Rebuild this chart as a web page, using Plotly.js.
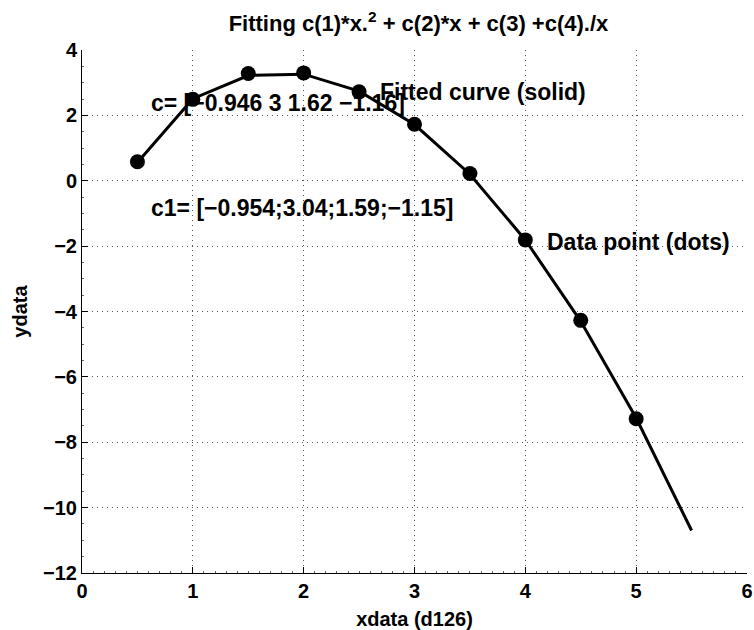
<!DOCTYPE html>
<html>
<head>
<meta charset="utf-8">
<script src="https://cdn.plot.ly/plotly-3.0.1.min.js"></script>
<style>html,body{margin:0;padding:0;background:#fff;}#chart{width:754px;height:630px;}</style>
</head>
<body>
<div id="chart"></div>
<script>
// Data
var xdata = [0.5, 1, 1.5, 2, 2.5, 3, 3.5, 4, 4.5, 5];
var ydata = [0.58, 2.49, 3.28, 3.30, 2.72, 1.73, 0.22, -1.81, -4.27, -7.28];
var xfit = [0.5, 1, 1.5, 2, 2.5, 3, 3.5, 4, 4.5, 5, 5.5];
var yfit = [0.56, 2.51, 3.22, 3.26, 2.74, 1.72, 0.20, -1.81, -4.30, -7.26, -10.70];

var titleText = 'Fitting c(1)*x.<sup>2</sup> + c(2)*x + c(3) +c(4)./x';
var xTitle = 'xdata (d126)';
var yTitle = 'ydata';
var notes = [
  {text: 'c= [\u22120.946 3 1.62 \u22121.16]', x: 0.6, y: 2.38},
  {text: 'c1= [\u22120.954;3.04;1.59;\u22121.15]', x: 0.6, y: -0.83},
  {text: 'Fitted curve (solid)', x: 2.67, y: 2.72},
  {text: 'Data point (dots)', x: 4.18, y: -1.87}
];

var F = 'Liberation Sans, Arial, Helvetica, sans-serif';

var traces = [
  {x: xfit, y: yfit, mode: 'lines', line: {color: '#000', width: 3}, hoverinfo: 'skip'},
  {x: xdata, y: ydata, mode: 'markers', marker: {color: '#000', size: 15}, hoverinfo: 'skip'}
];

var axisCommon = {
  showgrid: true, gridcolor: '#555', griddash: '1px,4px', gridwidth: 1,
  zeroline: false, showline: true, linecolor: '#000', linewidth: 1, mirror: false,
  ticks: 'inside', ticklen: 6, tickcolor: '#000',
  tickfont: {family: F, size: 20, color: '#000', weight: 'bold'}
};

var layout = {
  width: 754, height: 630,
  margin: {l: 82, r: 7, t: 50, b: 57},
  paper_bgcolor: '#fff', plot_bgcolor: '#fff',
  showlegend: false,
  title: {text: titleText, x: 0.555, xanchor: 'center', y: 0.963, yanchor: 'middle',
          font: {family: F, size: 22, color: '#000', weight: 'bold'}},
  xaxis: Object.assign({}, axisCommon, {
    range: [0, 6], dtick: 1, tick0: 0,
    minor: {dtick: 0.1, ticks: 'inside', ticklen: 2, tickcolor: '#666', showgrid: false},
    title: {text: xTitle, standoff: 10, font: {family: F, size: 20, color: '#000', weight: 'bold'}}
  }),
  yaxis: Object.assign({}, axisCommon, {
    range: [-12, 4], dtick: 2, tick0: 0,
    minor: {dtick: 0.5, ticks: 'inside', ticklen: 2, tickcolor: '#666', showgrid: false},
    title: {text: yTitle, standoff: 10, font: {family: F, size: 20, color: '#000', weight: 'bold'}}
  }),
  annotations: notes.map(function (n) {
    return {text: n.text, x: n.x, y: n.y, xref: 'x', yref: 'y',
            xanchor: 'left', yanchor: 'middle', showarrow: false,
            font: {family: F, size: 23, color: '#000', weight: 'bold'}};
  })
};

Plotly.newPlot('chart', traces, layout, {displayModeBar: false, staticPlot: true});
</script>
</body>
</html>
